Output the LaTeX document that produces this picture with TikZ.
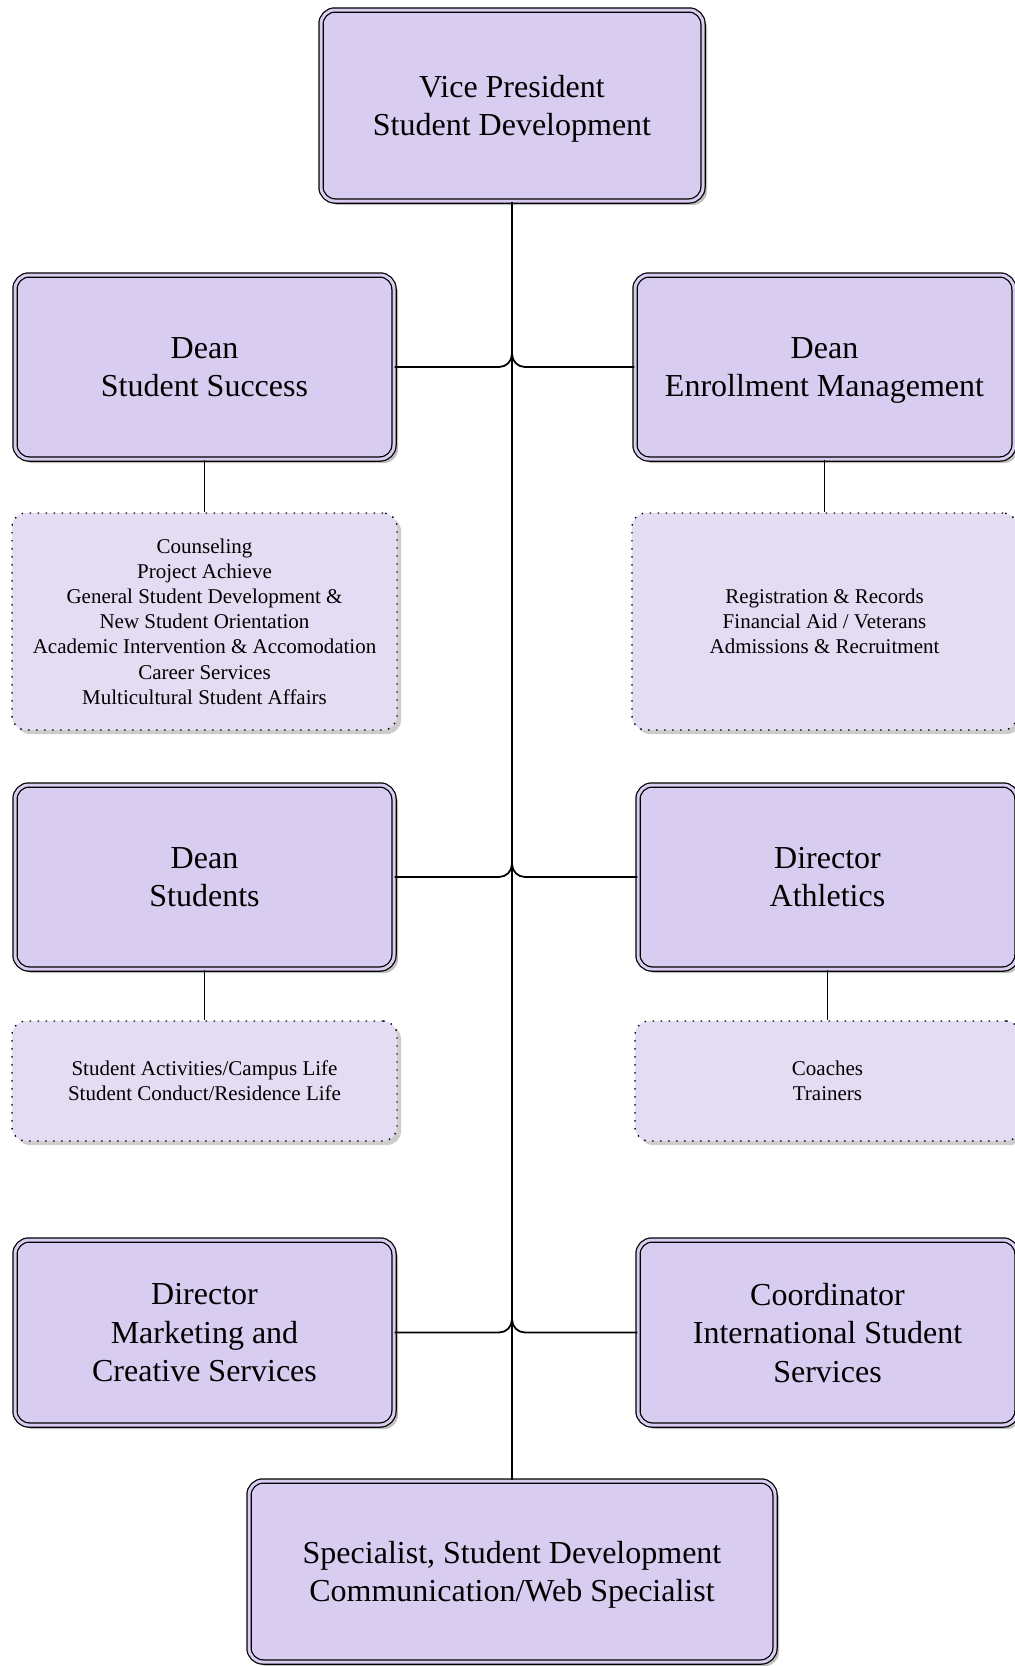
\documentclass[tikz,border=0pt]{standalone}
\usepackage{fontspec}
\setmainfont{Liberation Serif}
\usetikzlibrary{shadows}
\definecolor{boxfill}{RGB}{216,205,240}
\definecolor{subfill}{RGB}{227,220,243}
\tikzset{
  mainbox/.style={rectangle, rounded corners=14pt, draw=black, line width=1.25pt,
    double=boxfill, double distance=3pt, fill=boxfill, align=center, inner sep=0pt,
    font=\fontsize{32}{38.5}\selectfont, text depth=0pt,
    drop shadow={shadow xshift=4pt, shadow yshift=-4pt, fill=black, opacity=0.25}},
  subbox/.style={rectangle, rounded corners=14pt, draw=black, line width=1.4pt,
    dash pattern=on 1.4pt off 6.6pt, fill=subfill, align=center, inner sep=0pt,
    font=\fontsize{21}{25.2}\selectfont,
    drop shadow={shadow xshift=4pt, shadow yshift=-4pt, fill=black, opacity=0.2}},
  conn/.style={draw=black, line width=1.8pt},
  junction/.style={conn, rounded corners=13pt}
}
\begin{document}
\begin{tikzpicture}[x=1pt,y=-1pt]
\useasboundingbox (0,0) rectangle (1015,1666);
\clip (0,0) rectangle (1015,1666);
\fill[white] (0,0) rectangle (1015,1666);

\coordinate (j1) at (512,340);
\coordinate (j2) at (512,850);
\coordinate (j3) at (512,1306);

\node[mainbox, minimum width=382pt, minimum height=191pt] (vp) at (512,105.5)
  {Vice President\\Student Development};
\node[mainbox, minimum width=526pt, minimum height=181pt] (sp) at (512,1571.5)
  {Specialist, Student Development\\Communication/Web Specialist};
\draw[conn] (vp.south) -- (sp.north);

\node[mainbox, minimum width=379pt, minimum height=184pt] (l1) at (204.5,367)
  {Dean\\Student Success};
\node[mainbox, minimum width=379pt, minimum height=184pt] (r1) at (824.5,367)
  {Dean\\Enrollment Management};
\node[subbox, minimum width=385pt, minimum height=217pt] (ls1) at (204.5,621.5)
  {Counseling\\Project Achieve\\General Student Development \&\\New Student Orientation\\Academic Intervention \& Accomodation\\Career Services\\Multicultural Student Affairs};
\node[subbox, minimum width=385pt, minimum height=217pt] (rs1) at (824.5,621.5)
  {Registration \& Records\\Financial Aid / Veterans\\Admissions \& Recruitment};

\node[mainbox, minimum width=379pt, minimum height=184pt] (l2) at (204.5,877)
  {Dean\\Students};
\node[mainbox, minimum width=379pt, minimum height=184pt] (r2) at (827.5,877)
  {Director\\Athletics};
\node[subbox, minimum width=385pt, minimum height=120pt] (ls2) at (204.5,1081)
  {Student Activities/Campus Life\\Student Conduct/Residence Life};
\node[subbox, minimum width=385pt, minimum height=120pt] (rs2) at (827.5,1081)
  {Coaches\\Trainers};

\node[mainbox, minimum width=379pt, minimum height=185pt] (l3) at (204.5,1332.5)
  {Director\\Marketing and\\Creative Services};
\node[mainbox, minimum width=379pt, minimum height=185pt] (r3) at (827.5,1332.5)
  {Coordinator\\International Student\\Services};

\draw[junction] (l1.east) -| (j1);
\draw[junction] (r1.west) -| (j1);
\draw[junction] (l2.east) -| (j2);
\draw[junction] (r2.west) -| (j2);
\draw[junction] (l3.east) -| (j3);
\draw[junction] (r3.west) -| (j3);

\draw[conn] (l1.south) -- (ls1.north);
\draw[conn] (r1.south) -- (rs1.north);
\draw[conn] (l2.south) -- (ls2.north);
\draw[conn] (r2.south) -- (rs2.north);
\end{tikzpicture}
\end{document}
